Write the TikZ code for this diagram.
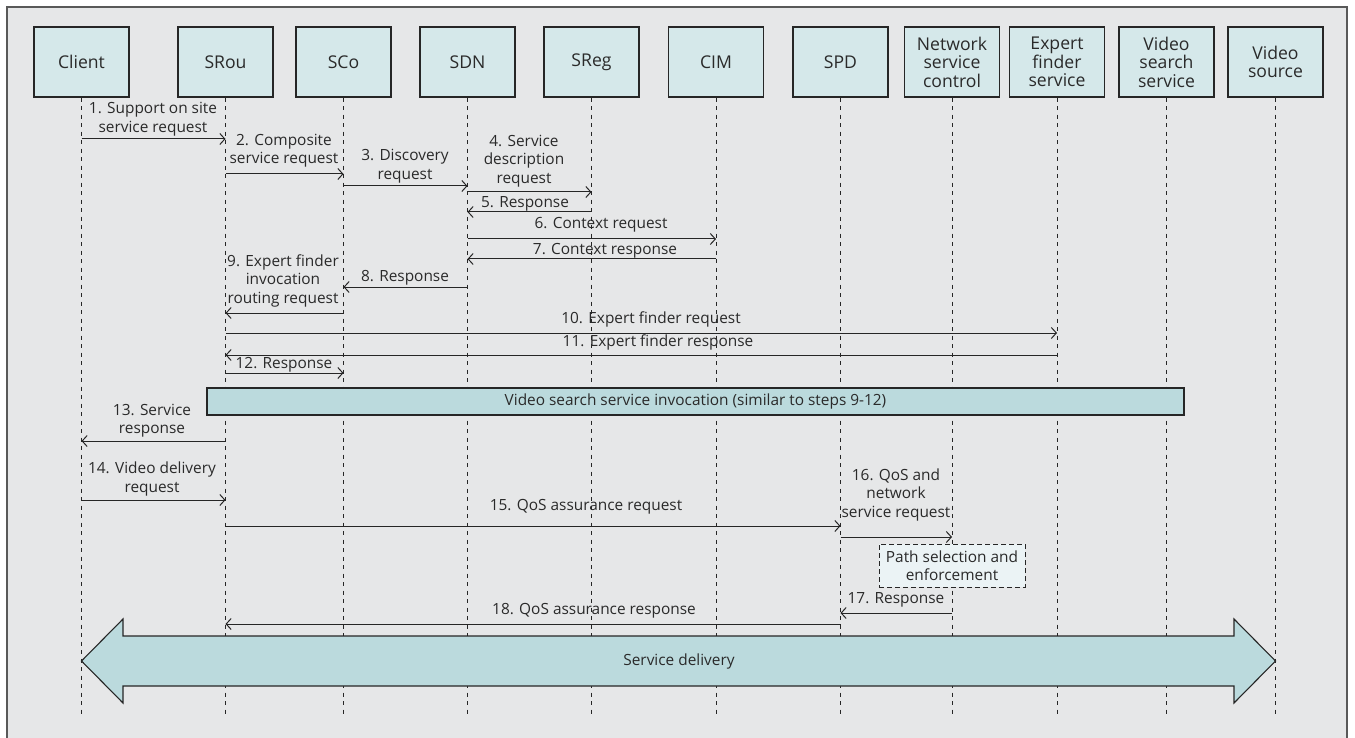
\documentclass[tikz,border=0pt]{standalone}
\usepackage{fontspec}
\setmainfont{Open Sans}
\usepackage{xcolor}
\usepackage{tikz}
\usetikzlibrary{arrows.meta}

\definecolor{bggray}{HTML}{E6E7E8}
\definecolor{headfill}{HTML}{D5E8EA}
\definecolor{barfill}{HTML}{BBDADD}
\definecolor{pathfill}{HTML}{EBF3F5}
\definecolor{linegray}{HTML}{262626}
\definecolor{textgray}{HTML}{2A2A2A}

\begin{document}
\begin{tikzpicture}[x=1pt, y=-1pt,
    actor/.style={draw=linegray, line width=1.2pt, fill=headfill, minimum width=95pt, minimum height=70pt, align=center, text=textgray, font=\fontsize{17.6}{18.5}\selectfont, inner sep=1pt},
    lifeline/.style={draw=linegray, line width=1pt, dash pattern=on 4pt off 4.5pt},
    msg/.style={draw=linegray, line width=1pt, -{Straight Barb[length=5pt,width=11pt]}},
    lbl/.style={align=center, text=textgray, font=\fontsize{15.4}{18.5}\selectfont, inner sep=0pt}]

    \useasboundingbox (0,0) rectangle (1355,738);
    % Frame
    \filldraw[fill=bggray, draw=black!65, line width=1.5pt] (7,7) rectangle (1347,745);

    % Participants
    \node[actor] (client) at (81.5,62) {Client};
    \node[actor] (srou) at (225.5,62) {SRou};
    \node[actor] (sco) at (343.5,62) {SCo};
    \node[actor] (sdn) at (467.5,62) {SDN};
    \node[actor] (sreg) at (591.5,62) {SReg};
    \node[actor] (cim) at (716,62) {CIM};
    \node[actor] (spd) at (840.5,62) {SPD};
    \node[actor] (nsc) at (952,62) {Network\\service\\control};
    \node[actor] (expert) at (1057,62) {Expert\\finder\\service};
    \node[actor] (vsearch) at (1166.5,62) {Video\\search\\service};
    \node[actor] (vsource) at (1275.5,62) {Video\\source};

    % Lifelines
    \draw[lifeline] (client.south) -- (client |- 0,717);
    \draw[lifeline] (srou.south) -- (srou |- 0,717);
    \draw[lifeline] (sco.south) -- (sco |- 0,717);
    \draw[lifeline] (sdn.south) -- (sdn |- 0,717);
    \draw[lifeline] (sreg.south) -- (sreg |- 0,717);
    \draw[lifeline] (cim.south) -- (cim |- 0,717);
    \draw[lifeline] (spd.south) -- (spd |- 0,717);
    \draw[lifeline] (nsc.south) -- (nsc |- 0,717);
    \draw[lifeline] (expert.south) -- (expert |- 0,717);
    \draw[lifeline] (vsearch.south) -- (vsearch |- 0,717);
    \draw[lifeline] (vsource.south) -- (vsource |- 0,717);

    % Discovery phase
    \draw[msg] (client |- 0,139) -- (srou |- 0,139);
    \node[lbl] (m1) at (153,119) {1. Support on site\\service request};
    \draw[msg] (srou |- 0,174) -- (sco |- 0,174);
    \node[lbl] (m2) at (284,150.5) {2. Composite\\service request};
    \draw[msg] (sco |- 0,186) -- (sdn |- 0,186);
    \node[lbl] (m3) at (405,166) {3. Discovery\\request};
    \draw[msg] (sdn |- 0,192) -- (sreg |- 0,192);
    \node[lbl] (m4) at (524,161) {4. Service\\description\\request};
    \draw[msg] (sreg |- 0,212) -- (sdn |- 0,212);
    \node[lbl] (m5) at (525,204) {5. Response};
    \draw[msg] (sdn |- 0,239) -- (cim |- 0,239);
    \node[lbl] (m6) at (601,225) {6. Context request};
    \draw[msg] (cim |- 0,259) -- (sdn |- 0,259);
    \node[lbl] (m7) at (605,251) {7. Context response};
    \draw[msg] (sdn |- 0,287) -- (sco |- 0,287);
    \node[lbl] (m8) at (405,278) {8. Response};

    % Expert finder invocation
    \draw[msg] (sco |- 0,313) -- (srou |- 0,313);
    \node[lbl] (m9) at (283,280.5) {9. Expert finder\\invocation\\routing request};
    \draw[msg] (srou |- 0,333) -- (expert |- 0,333);
    \node[lbl] (m10) at (651,319) {10. Expert finder request};
    \draw[msg] (expert |- 0,355) -- (srou |- 0,355);
    \node[lbl] (m11) at (658,342) {11. Expert finder response};
    \draw[msg] (srou |- 0,373) -- (sco |- 0,373);
    \node[lbl] (m12) at (284,365) {12. Response};

    % Video search invocation
    \node[lbl, draw=linegray, line width=1.1pt, fill=barfill, minimum width=977pt, minimum height=27pt] (vsinv) at (695.5,401.5) {Video search service invocation (similar to steps 9-12)};

    % Delivery phase
    \draw[msg] (srou |- 0,441) -- (client |- 0,441);
    \node[lbl] (m13) at (152,420.5) {13. Service\\response};
    \draw[msg] (client |- 0,500) -- (srou |- 0,500);
    \node[lbl] (m14) at (152,479) {14. Video delivery\\request};
    \draw[msg] (srou |- 0,526) -- (spd |- 0,526);
    \node[lbl] (m15) at (586,507) {15. QoS assurance request};
    \draw[msg] (spd |- 0,537) -- (nsc |- 0,537);
    \node[lbl] (m16) at (896,494.5) {16. QoS and\\network\\service request};
    \node[lbl, draw=linegray, line width=1pt, dash pattern=on 5pt off 3pt, fill=pathfill, minimum width=146pt, minimum height=43pt] (pathsel) at (952,565.5) {Path selection and\\enforcement};
    \draw[msg] (nsc |- 0,613) -- (spd |- 0,613);
    \node[lbl] (m17) at (896,600) {17. Response};
    \draw[msg] (spd |- 0,624) -- (srou |- 0,624);
    \node[lbl] (m18) at (594,611) {18. QoS assurance response};

    % Service delivery
    \filldraw[fill=barfill, draw=linegray, line width=1.1pt] (client |- 0,661) -- (123,619) -- (123,636) -- (1234,636) -- (1234,619) -- (vsource |- 0,661) -- (1234,703) -- (1234,686) -- (123,686) -- (123,703) -- cycle;
    \node[lbl] (deliv) at (679,661) {Service delivery};
\end{tikzpicture}
\end{document}
